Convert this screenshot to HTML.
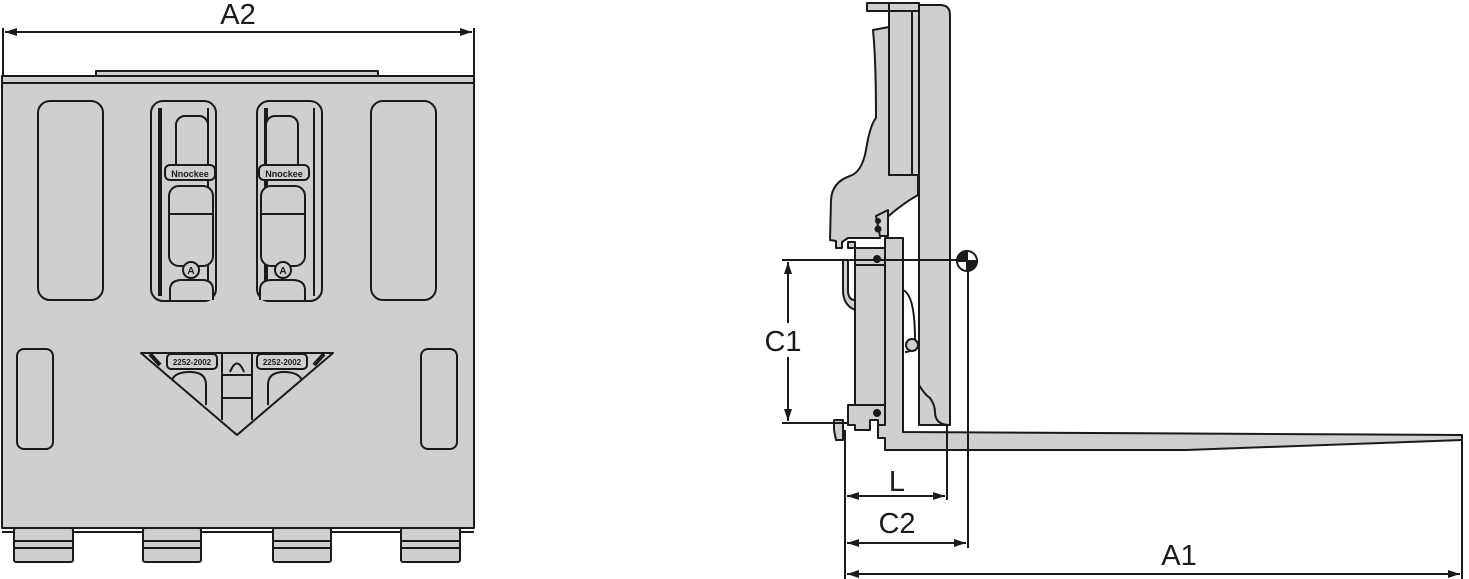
<!DOCTYPE html>
<html><head><meta charset="utf-8"><style>
html,body{margin:0;padding:0;background:#fff;}
svg{display:block;}
text{font-family:"Liberation Sans",sans-serif;fill:#1a1a1a;}
</style></head><body>
<svg width="1469" height="579" viewBox="0 0 1469 579" xmlns="http://www.w3.org/2000/svg">
<defs>
<marker id="ar" viewBox="0 0 12 8" refX="12" refY="4" markerWidth="12" markerHeight="8" orient="auto-start-reverse" markerUnits="userSpaceOnUse">
<path d="M0,0 L12,4 L0,8 Z" fill="#1a1a1a"/></marker>
</defs>
<g stroke="#1a1a1a" stroke-width="2" fill="#cfcfcf" stroke-linejoin="round">
<!-- LEFT VIEW -->
<line x1="3" y1="28" x2="3" y2="76" />
<line x1="474" y1="28" x2="474" y2="76" />
<line x1="5" y1="32" x2="472" y2="32" marker-start="url(#ar)" marker-end="url(#ar)"/>
<rect x="96" y="71" width="282" height="5" />
<rect x="2" y="76" width="472" height="452"/>
<line x1="2" y1="83" x2="474" y2="83"/>
<line x1="2" y1="532" x2="474" y2="532"/>
<g>
<rect x="14" y="528" width="59" height="34" rx="2"/><line x1="14" y1="541" x2="73" y2="541"/><line x1="14" y1="548" x2="73" y2="548"/>
<rect x="143" y="528" width="58" height="34" rx="2"/><line x1="143" y1="541" x2="201" y2="541"/><line x1="143" y1="548" x2="201" y2="548"/>
<rect x="273" y="528" width="58" height="34" rx="2"/><line x1="273" y1="541" x2="331" y2="541"/><line x1="273" y1="548" x2="331" y2="548"/>
<rect x="401" y="528" width="59" height="34" rx="2"/><line x1="401" y1="541" x2="460" y2="541"/><line x1="401" y1="548" x2="460" y2="548"/>
</g>
<rect x="38" y="101" width="65" height="199" rx="12"/>
<rect x="371" y="101" width="65" height="199" rx="12"/>
<rect x="17" y="349" width="36" height="100" rx="7"/>
<rect x="421" y="349" width="36" height="100" rx="7"/>
<!-- slots -->
<g>
<rect x="151" y="101" width="65" height="200" rx="12"/>
<line x1="160" y1="108" x2="160" y2="296" stroke-width="4"/>
<line x1="208" y1="108" x2="208" y2="296"/>
<rect x="176" y="116" width="32" height="56" rx="9"/>
<rect x="165" y="165" width="50" height="15" rx="5"/>
<rect x="169" y="186" width="44" height="80" rx="10"/>
<line x1="169" y1="214" x2="213" y2="214"/>
<circle cx="191" cy="270" r="8"/>
<path d="M170,300 L170,290 Q170,280 182,280 L202,280 Q213,280 213,290 L213,300"/>
</g>
<g>
<rect x="257" y="101" width="65" height="200" rx="12"/>
<line x1="266" y1="108" x2="266" y2="296" stroke-width="4"/>
<line x1="314" y1="108" x2="314" y2="296"/>
<rect x="266" y="116" width="32" height="56" rx="9"/>
<rect x="259" y="165" width="50" height="15" rx="5"/>
<rect x="261" y="186" width="44" height="80" rx="10"/>
<line x1="261" y1="214" x2="305" y2="214"/>
<circle cx="283" cy="270" r="8"/>
<path d="M260,300 L260,290 Q260,280 272,280 L292,280 Q305,280 305,290 L305,300"/>
</g>
<!-- triangle -->
<path d="M141,353 L333,353 L237,435 Z"/>
<rect x="167" y="354" width="50" height="15" rx="4"/>
<rect x="257" y="354" width="50" height="15" rx="4"/>
<line x1="222" y1="354" x2="222" y2="420"/>
<line x1="252" y1="354" x2="252" y2="420"/>
<line x1="222" y1="375" x2="252" y2="375"/>
<line x1="222" y1="398" x2="252" y2="398"/>
<path d="M172,380 Q175,372 190,372 Q206,372 206,385 L206,405" fill="none"/>
<path d="M302,380 Q298,372 284,372 Q268,372 268,385 L268,405" fill="none"/>
<path d="M230,372 Q237,355 244,372" fill="none"/>
<line x1="150" y1="354" x2="160" y2="365" stroke-width="4"/>
<line x1="324" y1="354" x2="314" y2="365" stroke-width="4"/>

<!-- RIGHT VIEW -->
<!-- backplate -->
<path d="M919,5 L940,5 Q950,5 950,15 L950,425 L919,425 Z"/>
<!-- upper bracket -->
<path d="M873,30 L889,27 L889,175 L918,175 L918,195 Q900,205 882,222 L880,238 L848,238 L842,242 L842,248 L836,248 L836,241 L830,240 L831,200 Q832,182 850,176 Q862,172 866,150 Q870,125 876,118 Q876,60 873,30 Z"/>
<path d="M876,216 L888,210 L888,236 L880,236 Z"/>
<circle cx="878" cy="221" r="2" fill="#1a1a1a"/>
<circle cx="878" cy="229" r="2.5" fill="#1a1a1a"/>
<!-- top bar -->
<rect x="867" y="3" width="52" height="8"/>
<line x1="889" y1="3" x2="889" y2="11"/>
<!-- mast channel -->
<rect x="889" y="11" width="30" height="164"/>
<line x1="912" y1="11" x2="912" y2="175"/>
<!-- carriage plate -->
<rect x="855" y="265" width="30" height="142"/>
<path d="M848,242 L855,242 L855,265 L885,265 L885,248 L848,248 Z"/>
<path d="M843,260 L848,260 L848,290 Q848,300 855,300 L855,310 Q843,305 843,290 Z"/>
<circle cx="877" cy="259" r="3" fill="#1a1a1a"/>
<!-- lower hook -->
<path d="M848,405 L885,405 L885,425 L878,425 L878,420 L870,420 L870,430 L855,430 L855,425 L848,425 Z"/>
<circle cx="877" cy="413" r="3" fill="#1a1a1a"/>
<path d="M834,420 L843,420 L843,440 L836,440 L834,430 Z"/>
<!-- rollers -->
<path d="M903,290 Q915,295 915,340 Q915,352 905,352" fill="none"/>
<circle cx="912" cy="345" r="6"/>
<!-- fork -->
<path d="M885,238 L903,238 L903,432 L1462,435 L1462,440 L1186,450 L885,450 L885,438 L878,438 L878,425 L885,425 Z"/>
<path d="M919,385 Q925,395 930,398 Q935,405 935,412 Q935,425 950,425" fill="none"/>
<!-- dimensions -->
<g fill="none">
<line x1="782" y1="260" x2="957" y2="260"/>
<line x1="782" y1="423" x2="848" y2="423"/>
<line x1="788" y1="262" x2="788" y2="323" marker-start="url(#ar)"/>
<line x1="788" y1="357" x2="788" y2="421" marker-end="url(#ar)"/>
<line x1="845" y1="430" x2="845" y2="579"/>
<line x1="947" y1="425" x2="947" y2="500"/>
<line x1="968" y1="270" x2="968" y2="548"/>
<line x1="1462" y1="436" x2="1462" y2="579"/>
<line x1="847" y1="496" x2="945" y2="496" marker-start="url(#ar)" marker-end="url(#ar)"/>
<line x1="847" y1="543" x2="966" y2="543" marker-start="url(#ar)" marker-end="url(#ar)"/>
<line x1="847" y1="574" x2="1460" y2="574" marker-start="url(#ar)" marker-end="url(#ar)"/>
</g>
<!-- CG symbol -->
<circle cx="967" cy="261" r="10" fill="#fff"/>
<path d="M967,251 A10,10 0 0 0 957,261 L967,261 Z" fill="#1a1a1a"/>
<path d="M967,271 A10,10 0 0 0 977,261 L967,261 Z" fill="#1a1a1a"/>
</g>
<text x="238" y="24" font-size="29" text-anchor="middle">A2</text>
<text x="783" y="351" font-size="29" text-anchor="middle">C1</text>
<text x="897" y="491" font-size="29" text-anchor="middle">L</text>
<text x="897" y="533" font-size="29" text-anchor="middle">C2</text>
<text x="1179" y="565" font-size="29" text-anchor="middle">A1</text>
<text x="190" y="177" font-size="9" font-weight="bold" text-anchor="middle">Nnockee</text>
<text x="284" y="177" font-size="9" font-weight="bold" text-anchor="middle">Nnockee</text>
<text x="192" y="365" font-size="8" font-weight="bold" text-anchor="middle">2252-2002</text>
<text x="282" y="365" font-size="8" font-weight="bold" text-anchor="middle">2252-2002</text>
<text x="191" y="274" font-size="10" font-weight="bold" text-anchor="middle">A</text>
<text x="283" y="274" font-size="10" font-weight="bold" text-anchor="middle">A</text>
</svg>
</body></html>
